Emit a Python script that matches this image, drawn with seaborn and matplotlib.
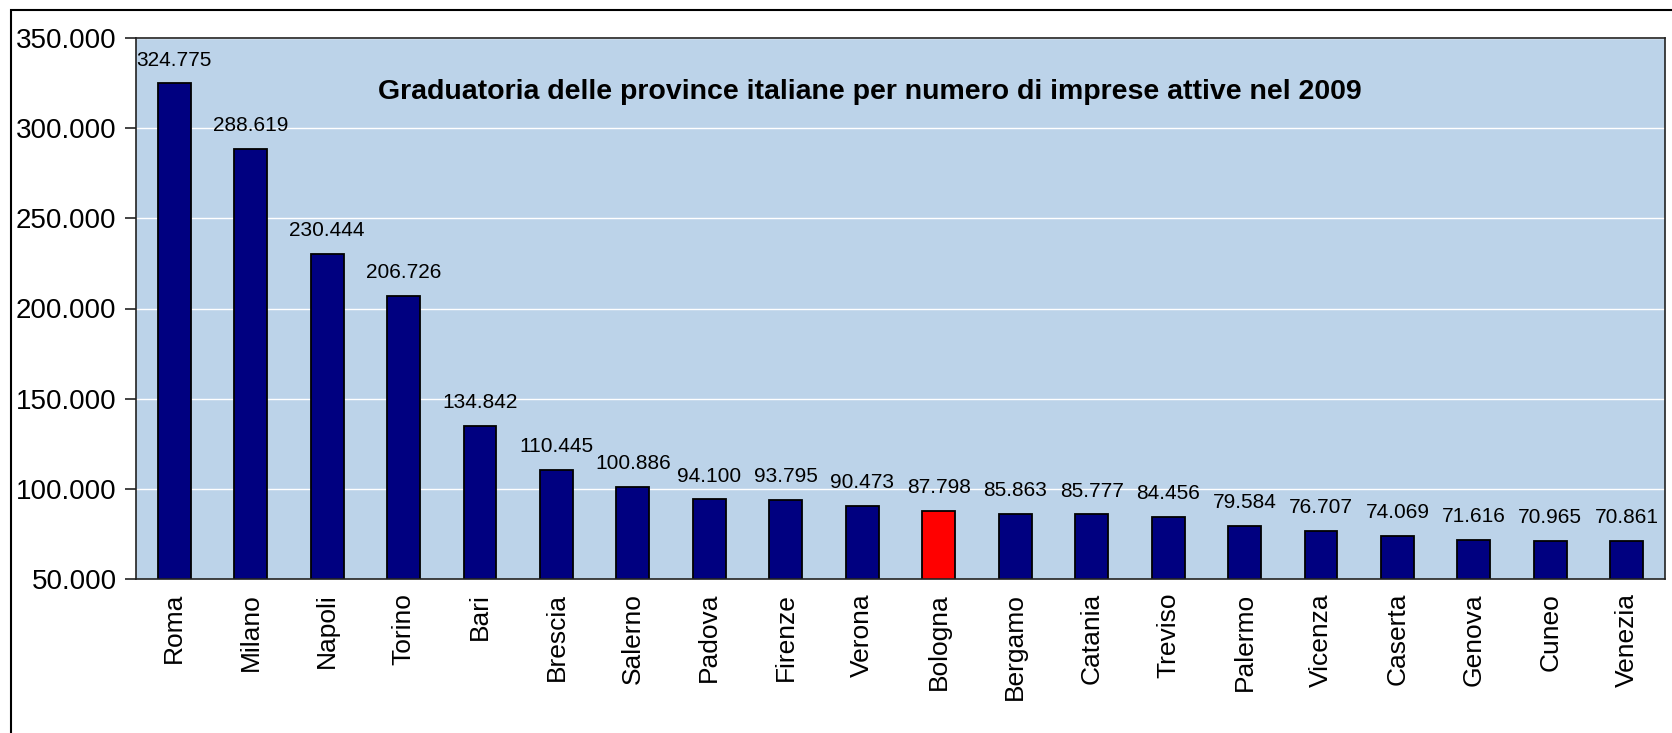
import matplotlib
matplotlib.use('Agg')
import matplotlib.pyplot as plt
import seaborn as sns
import pandas as pd
from matplotlib.patches import Rectangle
from matplotlib.ticker import FuncFormatter, MultipleLocator

province = ["Roma", "Milano", "Napoli", "Torino", "Bari", "Brescia", "Salerno",
            "Padova", "Firenze", "Verona", "Bologna", "Bergamo", "Catania",
            "Treviso", "Palermo", "Vicenza", "Caserta", "Genova", "Cuneo", "Venezia"]
imprese = [324775, 288619, 230444, 206726, 134842, 110445, 100886, 94100, 93795,
           90473, 87798, 85863, 85777, 84456, 79584, 76707, 74069, 71616, 70965, 70861]
highlight = "Bologna"

TITLE = "Graduatoria delle province italiane per numero di imprese attive nel 2009"
NAVY, RED, BG = "#000080", "#FF0000", "#BCD3E9"


def it_fmt(v):
    return f"{int(round(v)):,}".replace(",", ".")


def main():
    sns.set_style("white")
    plt.rcParams['font.family'] = ['Liberation Sans', 'DejaVu Sans']
    plt.rcParams['text.color'] = 'black'
    plt.rcParams['xtick.color'] = 'black'
    plt.rcParams['ytick.color'] = 'black'

    df = pd.DataFrame({"provincia": province, "imprese": imprese})
    palette = {p: (RED if p == highlight else NAVY) for p in province}

    fig = plt.figure(figsize=(16.72, 7.33), dpi=100)
    ax = fig.add_axes([136 / 1672, 1 - 579 / 733, (1665 - 136) / 1672, (579 - 38) / 733])

    sns.barplot(data=df, x="provincia", y="imprese", hue="provincia",
                palette=palette, legend=False, width=0.43, saturation=1,
                edgecolor="black", linewidth=1.3, ax=ax)

    ax.set_facecolor(BG)
    ax.set_ylim(50000, 350000)
    ax.set_xlim(-0.5, len(province) - 0.5)
    ax.yaxis.set_major_locator(MultipleLocator(50000))
    ax.yaxis.set_major_formatter(FuncFormatter(lambda v, _: it_fmt(v)))
    ax.grid(axis="y", color="white", linewidth=1)
    ax.set_axisbelow(True)
    ax.set_xlabel("")
    ax.set_ylabel("")

    for s in ax.spines.values():
        s.set_color("#222222")
        s.set_linewidth(1.2)

    # tick labels centred on bars, tick marks on category boundaries
    ax.tick_params(axis="x", which="major", length=0, pad=10, labelsize=19)
    ax.set_xticks(range(len(province)))
    ax.set_xticklabels(province, rotation=90, va="top", ha="center")
    ax.set_xticks([i - 0.5 for i in range(len(province) + 1)], minor=True)
    ax.tick_params(axis="x", which="minor", length=8, width=1.2, color="#222222", direction="out")
    ax.tick_params(axis="y", length=8, width=1.2, color="#222222", direction="out",
                   labelsize=20, pad=6, left=True)

    for i, v in enumerate(imprese):
        ax.annotate(it_fmt(v), (i, v), xytext=(0, 10), textcoords="offset points",
                    ha="center", va="bottom", fontsize=15)

    ax.text((870 - 136) / (1665 - 136), 0.90, TITLE, transform=ax.transAxes,
            ha="center", va="center", fontsize=20.5, fontweight="bold")

    fig.patches.append(Rectangle((11 / 1672, -0.05), 1.2, 1 - 10 / 733 + 0.05,
                                 transform=fig.transFigure, fill=False,
                                 edgecolor="black", linewidth=1.5))

    fig.savefig("out.png", dpi=100)
    plt.close(fig)


if __name__ == "__main__":
    main()
